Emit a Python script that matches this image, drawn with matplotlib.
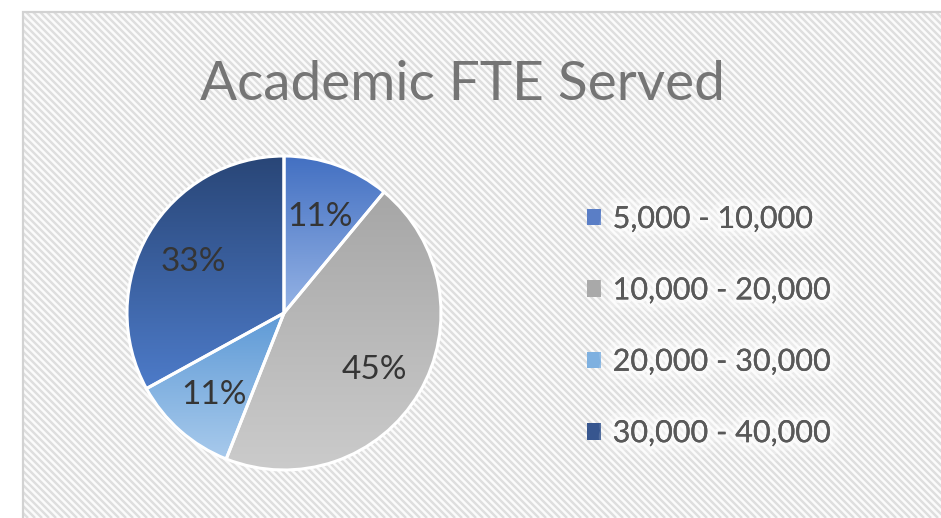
import numpy as np
import matplotlib
matplotlib.use("Agg")
import matplotlib.pyplot as plt
from matplotlib.patches import Rectangle, Patch
from matplotlib.collections import LineCollection
from matplotlib.colors import to_rgb
import matplotlib.patheffects as pe

# ---- data ----
title = "Academic FTE Served"
categories = ["5,000 - 10,000", "10,000 - 20,000", "20,000 - 30,000", "30,000 - 40,000"]
shares = [11, 45, 11, 33]

# ---- styles ----
grad_top = ["#4370c2", "#a6a6a6", "#5e9ad6", "#294677"]
grad_bottom = ["#95b3e5", "#cbcbcb", "#a8caec", "#4d7bc9"]
legend_colors = ["#5a7ec6", "#a9a9a9", "#7eb0e0", "#37568f"]

W, H = 941, 518
plt.rcParams["font.family"] = ["Lato", "DejaVu Sans"]

fig = plt.figure(figsize=(W / 100, H / 100), dpi=100)
fig.patch.set_facecolor("white")

# hatched chart area background (decorative diagonal stripes, in pixel units)
x0p, y0p = 23, 12
bg = Rectangle((x0p / W, 0), 1 - x0p / W, 1 - y0p / H, transform=fig.transFigure,
               facecolor="#fbfbfb", edgecolor="none", zorder=-3)
fig.patches.append(bg)
period = 7.0
segs = []
for s in np.arange(-H, W + H, period):
    # line from (s, top) going down-right at 45 degrees (pixel coords, y up)
    segs.append([((s) / W, 1.0), ((s + H) / W, 0.0)])
lc = LineCollection(segs, colors="#dedede", linewidths=1.75,
                    transform=fig.transFigure, zorder=-2)
lc.set_clip_path(bg)
fig.add_artist(lc)
border = Rectangle((x0p / W, -0.05), 1.1, 1.05 - y0p / H, transform=fig.transFigure,
                   facecolor="none", edgecolor="#d2d2d2", lw=1.6, zorder=-1)
fig.patches.append(border)

# title
fig.text(462 / W, 1 - 100 / H, title, ha="center", va="baseline",
         fontsize=39.5, color="#757575")

# pie axes
cx, cy, r = 284, 313, 157
ax = fig.add_axes([(cx - r) / W, (H - cy - r) / H, 2 * r / W, 2 * r / H])
ax.set_zorder(2)
ax.set_axis_off()
ax.patch.set_visible(False)

wedges, texts, autotexts = ax.pie(
    shares, startangle=90, counterclock=False, radius=1,
    autopct=lambda p: f"{p:.0f}%", pctdistance=0.67,
    wedgeprops=dict(edgecolor="white", linewidth=2.2, facecolor="none", zorder=3),
    textprops=dict(fontsize=24, color="#353535", va="center_baseline"))

for i, w in enumerate(wedges):
    w.set_clip_on(False)
    ext = w.get_path().get_extents()
    top = np.array(to_rgb(grad_top[i]))
    bot = np.array(to_rgb(grad_bottom[i]))
    t = np.linspace(0, 1, 256)[:, None]
    grad = (top[None, :] * (1 - t) + bot[None, :] * t)[:, None, :]
    im = ax.imshow(grad, extent=(ext.x0, ext.x1, ext.y0, ext.y1), origin="upper",
                   aspect="auto", zorder=2, interpolation="bilinear")
    im.set_clip_path(w)

for t_ in autotexts:
    t_.set_zorder(5)

ax.set_xlim(-1, 1)
ax.set_ylim(-1, 1)
ax.set_aspect("equal")

# legend
handles = [Patch(facecolor=c, edgecolor="none") for c in legend_colors]
fs = 22
leg = fig.legend(handles, categories, loc="upper left",
                 bbox_to_anchor=(587 / W, 1 - 205 / H), frameon=False,
                 fontsize=fs, handlelength=0.46, handleheight=0.46,
                 handletextpad=0.38, labelspacing=1.42, borderpad=0, borderaxespad=0)
glow = [pe.withStroke(linewidth=22, foreground="white", alpha=0.15),
        pe.withStroke(linewidth=12, foreground="white", alpha=0.3),
        pe.withStroke(linewidth=5, foreground="white", alpha=0.6),
        pe.Normal()]
for txt in leg.get_texts():
    txt.set_color("#595959")
    txt.set_path_effects(glow)

fig.savefig("out.png", dpi=100)
